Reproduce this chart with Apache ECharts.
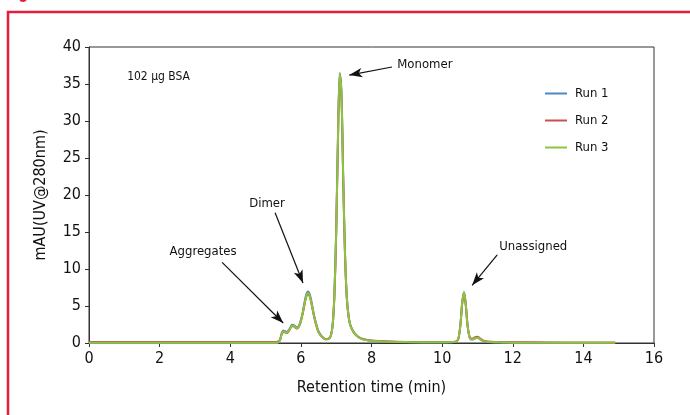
<!DOCTYPE html>
<html><head><meta charset="utf-8">
<script src="https://cdn.jsdelivr.net/npm/echarts@6/dist/echarts.min.js"></script>
<style>html,body{margin:0;padding:0;background:#fff}#c{width:690px;height:415px}</style>
</head><body><div id="c"></div>
<script>
const times = [0,1,2,3,4,5,5.3,5.4,5.45,5.5,5.55,5.6,5.65,5.7,5.75,5.8,5.85,5.9,5.95,6.0,6.05,6.1,6.15,6.2,6.25,6.3,6.35,6.4,6.45,6.5,6.6,6.7,6.8,6.85,6.9,6.95,7.0,7.05,7.1,7.15,7.2,7.25,7.3,7.35,7.4,7.5,7.6,7.7,7.8,8.0,8.5,9.0,9.5,10.0,10.3,10.42,10.47,10.52,10.57,10.62,10.67,10.72,10.77,10.82,10.87,10.92,10.97,11.02,11.07,11.12,11.2,11.4,11.7,12.0,13.0,14.0,14.9];
const run1 = [-0.03,-0.03,-0.03,-0.03,-0.03,-0.03,
 -0.03,0.3,1.2,1.7,1.6,1.5,1.7,2.1,2.45,2.4,
 2.2,2.1,2.4,3.1,4.1,5.4,6.5,6.95,6.6,5.6,
 4.3,3.2,2.3,1.6,0.85,0.52,0.62,1.05,2.5,6.7,
 15.3,27.8,36.5,33.6,22.2,12.1,6.3,3.7,2.45,1.45,
 0.92,0.62,0.46,0.3,0.17,0.1,0.08,0.08,0.1,0.24,
 0.8,2.6,5.5,6.85,5.2,2.4,0.9,0.48,0.48,0.6,
 0.7,0.68,0.52,0.36,0.2,0.1,0.06,0.03,0.02,0.01,
 0.01];
const run2 = [0.15,0.15,0.15,0.15,0.15,0.15,
 0.15,0.35,1.1,1.5,1.45,1.35,1.55,1.95,2.3,2.25,
 2.05,1.95,2.25,2.9,3.9,5.1,6.2,6.6,6.3,5.3,
 4.1,3.0,2.15,1.45,0.8,0.52,0.62,1.0,2.4,6.4,
 14.8,27.2,36.2,33.3,21.8,11.9,6.1,3.6,2.4,1.4,
 0.92,0.63,0.48,0.33,0.2,0.14,0.12,0.12,0.13,0.25,
 0.75,2.5,5.4,6.8,5.1,2.35,0.95,0.6,0.6,0.75,
 0.85,0.82,0.65,0.45,0.28,0.16,0.12,0.1,0.08,0.07,
 0.07];
const run3 = [0.02,0.02,0.02,0.02,0.02,0.02,
 0.02,0.3,1.1,1.6,1.5,1.4,1.6,2.0,2.35,2.3,
 2.1,2.0,2.3,3.0,4.0,5.2,6.3,6.75,6.4,5.4,
 4.2,3.1,2.2,1.5,0.8,0.5,0.6,1.0,2.4,6.5,
 15,27.5,36.4,33.5,22,12,6.2,3.6,2.4,1.4,
 0.9,0.6,0.45,0.3,0.18,0.12,0.1,0.1,0.12,0.25,
 0.8,2.6,5.5,6.9,5.2,2.4,0.9,0.5,0.5,0.62,
 0.72,0.7,0.55,0.38,0.22,0.12,0.08,0.05,0.04,0.03,
 0.03];
const seriesNames = ['Run 1','Run 2','Run 3'];
const seriesColors = ['#4f86c6','#c9504f','#8cc43f'];
const xTicks = {min:0, max:16, interval:2};
const yTicks = {min:0, max:40, interval:5};
// annotation anchors in data coordinates: [tailT, tailV, tipT, tipV]
const annoNames = ['Monomer','Dimer','Aggregates','Unassigned'];
const annoArrows = [[8.58,37.3,7.37,36.2],[5.27,17.6,6.06,8.1],[3.77,10.9,5.50,2.7],[11.56,11.9,10.85,7.8]];
const annoLabelPos = [[8.73,37.6,'left'],[5.04,18.8,'center'],[3.23,12.4,'center'],[12.58,13.0,'center']];
const sampleLabel = ['102 µg BSA', 1.08, 35.9];

const FONT = '"Liberation Sans Narrow","DejaVu Sans Condensed","Arial Narrow",sans-serif';
const chart = echarts.init(document.getElementById('c'));
const allRuns = [run1, run2, run3];
const series = allRuns.map((r, i) => ({
  name: seriesNames[i], type: 'line', data: times.map((t, k) => [t, r[k]]),
  showSymbol: false, smooth: 0.3, lineStyle: {width: 2, color: seriesColors[i]},
  itemStyle: {color: seriesColors[i]}, z: 2 + i
}));
series.push({
  type: 'line', data: [], silent: true, z: 10,
  markLine: {
    silent: true, symbol: ['none','arrow'], symbolSize: [7, 13],
    lineStyle: {color: '#111', width: 1.2, type: 'solid'}, label: {show: false},
    data: annoArrows.map(a => [{coord: [a[0], a[1]]}, {coord: [a[2], a[3]]}])
  },
  markPoint: {
    silent: true, symbol: 'circle', symbolSize: 0,
    label: {color: '#111', fontFamily: FONT, fontSize: 13},
    data: annoNames.map((n, i) => ({coord: [annoLabelPos[i][0], annoLabelPos[i][1]], value: n,
      label: {show: true, formatter: n, position: annoLabelPos[i][2] === 'left' ? 'right' : 'inside', distance: 0}}))
      .concat([{coord: [sampleLabel[1], sampleLabel[2]], label: {show: true, formatter: sampleLabel[0], position: 'right', distance: 0, fontSize: 12}}])
  }
});
chart.setOption({
  animation: false,
  textStyle: {fontFamily: FONT},
  grid: {left: 89, right: 36, top: 47, bottom: 72, show: true, borderColor: '#333', borderWidth: 1},
  graphic: [
    {type: 'rect', shape: {x: 8, y: 12, width: 720, height: 440}, style: {fill: 'none', stroke: '#e61e3c', lineWidth: 2.5}, silent: true},
    {type: 'circle', shape: {cx: 23, cy: -2, r: 4}, style: {fill: '#e61e3c'}, silent: true}
  ],
  legend: {
    orient: 'vertical', left: 540, top: 82, itemWidth: 22, itemHeight: 12, itemGap: 14,
    icon: 'path://M0,5 L22,5 L22,7 L0,7 Z',
    textStyle: {fontFamily: FONT, fontSize: 13, color: '#111', padding: [0,0,0,3]},
    data: seriesNames
  },
  xAxis: {
    type: 'value', min: xTicks.min, max: xTicks.max, interval: xTicks.interval,
    name: 'Retention time (min)', nameLocation: 'middle', nameGap: 37,
    nameTextStyle: {fontFamily: FONT, fontSize: 16, color: '#111'},
    axisLine: {lineStyle: {color: '#333', width: 1}},
    axisTick: {show: true, length: 4, lineStyle: {color: '#333'}},
    axisLabel: {fontFamily: FONT, fontSize: 16, color: '#111', margin: 8},
    splitLine: {show: false}
  },
  yAxis: {
    type: 'value', min: yTicks.min, max: yTicks.max, interval: yTicks.interval,
    name: 'mAU(UV@280nm)', nameLocation: 'middle', nameGap: 40, nameRotate: 90,
    nameTextStyle: {fontFamily: FONT, fontSize: 16, color: '#111'},
    axisLine: {show: true, lineStyle: {color: '#333', width: 1}},
    axisTick: {show: true, length: 4, lineStyle: {color: '#333'}},
    axisLabel: {fontFamily: FONT, fontSize: 16, color: '#111', margin: 8},
    splitLine: {show: false}
  },
  series: series
});
</script></body></html>
